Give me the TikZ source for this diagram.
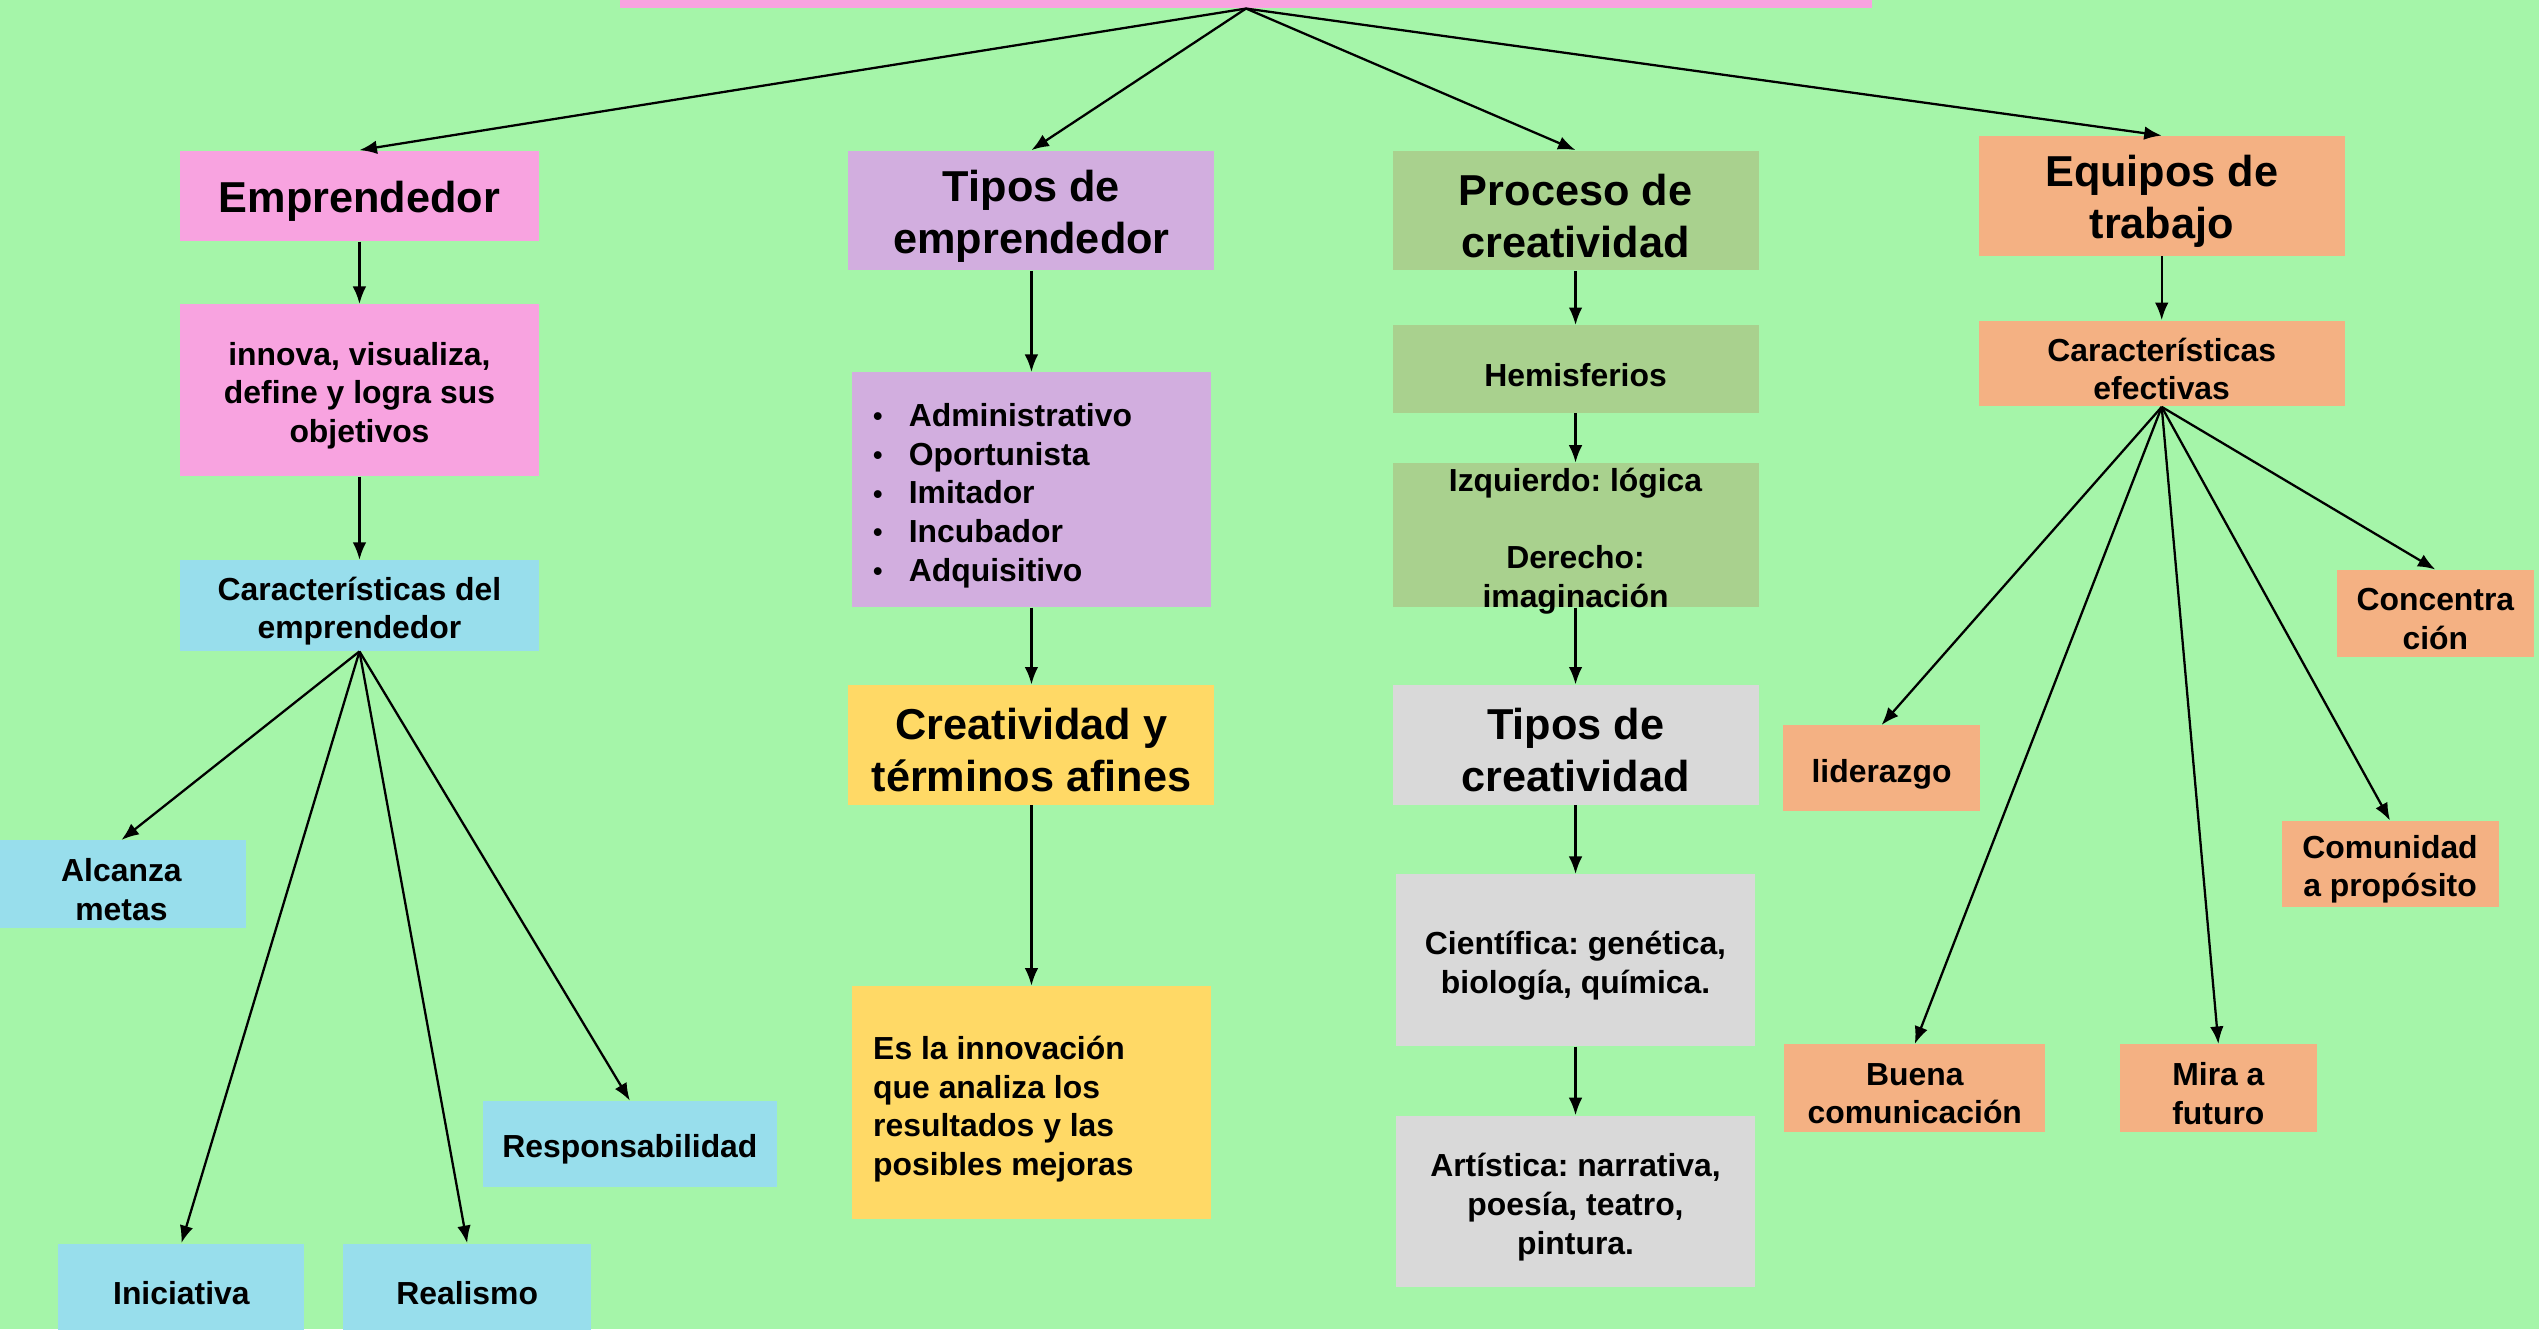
\documentclass[tikz,border=0pt]{standalone}
\usepackage{fontspec}
\setmainfont{Liberation Sans}
\usetikzlibrary{arrows.meta}
\definecolor{bg}{HTML}{A5F5A9}
\definecolor{pinkc}{HTML}{F8A3E0}
\definecolor{bluec}{HTML}{98DEEC}
\definecolor{purplec}{HTML}{D2AEDF}
\definecolor{yellowc}{HTML}{FFD966}
\definecolor{greenc}{HTML}{A9D18E}
\definecolor{grayc}{HTML}{D9D9D9}
\definecolor{orangec}{HTML}{F4B183}
\frenchspacing
\newcommand\mybox[7]{%
  \node[#6, minimum width={(#4-#2)*0.025cm}, minimum height={(#5-#3)*0.025cm}] (#1) at ({(#2+#4)/2},{(#3+#5)/2}) {};
  \node[#6, fill=none, inner sep=0pt] (#1-t) at ([yshift=-0.085cm]#1.center) {#7};}
\newcommand\blt{\makebox[0.55cm][l]{\raisebox{0.02em}{\scalebox{0.85}{•}}}}
\tikzset{
  box/.style={rectangle, inner sep=0pt, align=center},
  big/.style={font=\bfseries\fontsize{19}{22.7}\selectfont},
  sm/.style={font=\bfseries\fontsize{14}{17}\selectfont},
  arr/.style={-{Latex[length=2.7mm,width=2.1mm]}, line width=1pt},
}
\begin{document}
\begin{tikzpicture}[x=0.025cm,y=-0.025cm]
\useasboundingbox (0,0) rectangle (1568,821);
\clip (0,0) rectangle (1568,821);
\fill[bg] (0,0) rectangle (1568,821);

% top
\node[box, fill=pinkc, minimum width={773*0.025cm}, minimum height={45*0.025cm}] (top) at (769.5,-17.5) {};

% column 1
\mybox{emp}{111}{93}{333}{149}{box,big,fill=pinkc}{Emprendedor}
\mybox{innova}{111}{188}{333}{294}{box,sm,fill=pinkc}{innova, visualiza,\\define y logra sus\\objetivos}
\mybox{carac}{111}{346}{333}{402}{box,sm,fill=bluec}{Características del\\emprendedor}
\mybox{alc}{-2}{519}{152}{573}{box,sm,fill=bluec}{Alcanza\\metas}
\mybox{ini}{36}{768}{188}{822}{box,sm,fill=bluec}{Iniciativa}
\mybox{rea}{212}{768}{365}{822}{box,sm,fill=bluec}{Realismo}
\mybox{resp}{298}{680}{480}{733}{box,sm,fill=bluec}{Responsabilidad}

% column 2
\mybox{tipos}{524}{93}{750}{167}{box,big,fill=purplec}{Tipos de\\emprendedor}
\mybox{lista}{526}{230}{748}{375}{box,fill=purplec}{}
\node[sm, inner sep=0pt, anchor=west, align=left] (listatxt) at (539,306) {\blt Administrativo\\\blt Oportunista\\\blt Imitador\\\blt Incubador\\\blt Adquisitivo};
\mybox{creat}{524}{423}{750}{497}{box,big,fill=yellowc}{Creatividad y\\términos afines}
\mybox{esla}{526}{609}{748}{753}{box,fill=yellowc}{}
\node[sm, inner sep=0pt, anchor=west, align=left] (eslatxt) at (539,685) {Es la innovación\\que analiza los\\resultados y las\\posibles mejoras};

% column 3
\mybox{proc}{860}{93}{1086}{167}{box,big,fill=greenc}{Proceso de\\creatividad}
\mybox{hemi}{860}{201}{1086}{255}{box,sm,fill=greenc}{Hemisferios}
\mybox{izq}{860}{286}{1086}{375}{box,fill=greenc}{}
\node[sm, inner sep=0pt, align=center] (izqtxt) at (973,334) {Izquierdo: lógica\\\mbox{}\\Derecho:\\imaginación};
\mybox{tcre}{860}{423}{1086}{497}{box,big,fill=grayc}{Tipos de\\creatividad}
\mybox{cien}{862}{540}{1084}{646}{box,sm,fill=grayc}{Científica: genética,\\biología, química.}
\mybox{art}{862}{689}{1084}{795}{box,sm,fill=grayc}{Artística: narrativa,\\poesía, teatro,\\pintura.}

% column 4
\mybox{equi}{1222}{84}{1448}{158}{box,big,fill=orangec}{Equipos de\\trabajo}
\mybox{cef}{1222}{198}{1448}{251}{box,sm,fill=orangec}{Características\\efectivas}
\mybox{conc}{1443}{352}{1565}{406}{box,sm,fill=orangec}{Concentra\\ción}
\mybox{lid}{1101}{448}{1223}{501}{box,sm,fill=orangec}{liderazgo}
\mybox{com}{1409}{507}{1543}{560}{box,sm,fill=orangec}{Comunidad\\a propósito}
\mybox{bue}{1102}{645}{1263}{699}{box,sm,fill=orangec}{Buena\\comunicación}
\mybox{mira}{1309}{645}{1431}{699}{box,sm,fill=orangec}{Mira a\\futuro}

% arrows
\draw[arr] (top.south) -- (emp.north);
\draw[arr] (top.south) -- (tipos.north);
\draw[arr] (top.south) -- (proc.north);
\draw[arr] (top.south) -- (equi.north);

\draw[arr] (emp.south) -- (innova.north);
\draw[arr] (innova.south) -- (carac.north);
\draw[arr] (carac.south) -- (alc.north);
\draw[arr] (carac.south) -- (ini.north);
\draw[arr] (carac.south) -- (rea.north);
\draw[arr] (carac.south) -- (resp.north);

\draw[arr] (tipos.south) -- (lista.north);
\draw[arr] (lista.south) -- (creat.north);
\draw[arr] (creat.south) -- (esla.north);

\draw[arr] (proc.south) -- (hemi.north);
\draw[arr] (hemi.south) -- (izq.north);
\draw[arr] (izq.south) -- (tcre.north);
\draw[arr] (tcre.south) -- (cien.north);
\draw[arr] (cien.south) -- (art.north);

\draw[arr] (equi.south) -- (cef.north);
\draw[arr] (cef.south) -- (lid.north);
\draw[arr] (cef.south) -- (bue.north);
\draw[arr] (cef.south) -- (mira.north);
\draw[arr] (cef.south) -- (com.north);
\draw[arr] (cef.south) -- (conc.north);
\end{tikzpicture}
\end{document}
